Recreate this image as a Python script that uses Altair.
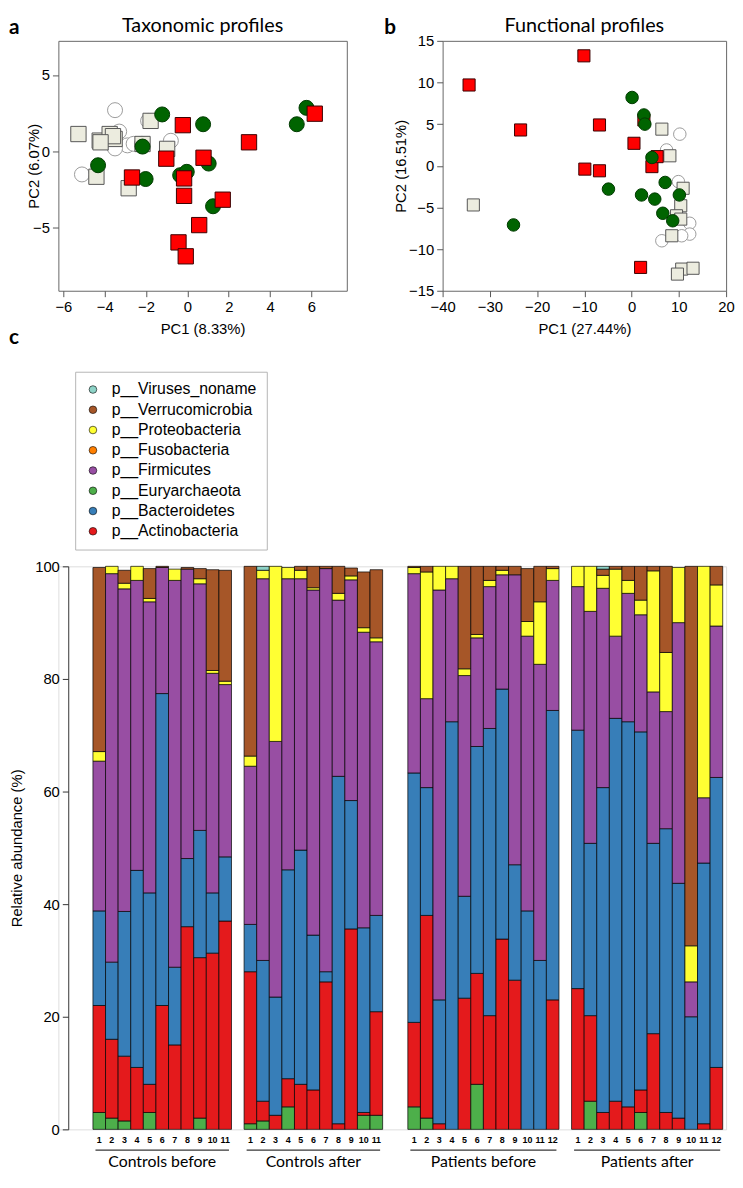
import altair as alt
import pandas as pd

# ---------------- Panel a: taxonomic profiles (PCA) ----------------
tax_open_x = [-3.5, -5.1, -3.6, -3.3, -2.9, -2.6, -1.9, -0.8, -3.5, -2.2]
tax_open_y = [2.7, -1.5, 0.4, 1.3, 0.4, 0.5, 2.0, 0.7, 0.2, 0.5]
tax_beige_x = [-5.27, -4.24, -3.76, -3.52, -4.4, -2.84, -1.78, -0.98, -2.17, -3.6, -4.2]
tax_beige_y = [1.14, 0.71, 1.14, 0.82, -1.65, -2.4, 2.0, 0.17, 0.49, 1.0, 0.6]
tax_green_x = [-1.22, 0.76, -2.17, -4.32, -2.02, -0.35, -0.03, 1.03, 1.24, 5.76, 5.29]
tax_green_y = [2.42, 1.78, 0.32, -0.9, -1.8, -1.55, -1.33, -0.79, -3.58, 2.85, 1.78]
tax_red_x = [-0.22, -1.02, -2.68, 0.78, -0.16, -0.16, 1.71, 0.57, -0.43, -0.08, 2.98, 6.16]
tax_red_y = [1.72, -0.47, -1.7, -0.41, -1.76, -2.9, -3.15, -4.81, -5.94, -6.85, 0.6, 2.47]

# ---------------- Panel b: functional profiles (PCA) ----------------
fun_open_x = [10.2, 7.4, 9.9, 12.3, 12.3, 10.6, 6.4]
fun_open_y = [3.8, 1.9, -1.9, -6.9, -8.2, -8.4, -9.0]
fun_beige_x = [6.4, 8.1, -33.5, 10.9, 10.4, 9.5, 10.4, 8.5, 10.6, 13.0, 9.7]
fun_beige_y = [4.4, 1.2, -4.7, -2.7, -4.8, -6.0, -6.4, -8.4, -12.4, -12.3, -13.0]
fun_red_x = [-34.4, -10.1, -23.5, -6.8, 0.5, -9.9, -6.8, 2.6, 4.3, 5.4, 1.9]
fun_red_y = [9.7, 13.2, 4.3, 4.9, 2.7, -0.4, -0.6, 5.5, -0.1, 1.1, -12.2]
fun_green_x = [0.1, 2.6, 2.8, 4.3, -4.9, 7.1, 2.1, 4.9, 10.1, 6.6, 8.7, -25.0]
fun_green_y = [8.2, 6.1, 5.0, 1.0, -2.8, -2.0, -3.5, -4.0, -3.5, -5.7, -6.6, -7.1]

# ---------------- Panel c: phylum relative abundance (%) ----------------
group_names = ["Controls before", "Controls after", "Patients before", "Patients after"]
group_sizes = [11, 11, 12, 12]

# values per sample, order: CB1-11, CA1-11, PB1-12, PA1-12
euryarchaeota = [3, 2, 1.5, 0, 3, 0, 0, 0, 2, 0, 0,
                 1, 1.5, 0, 4, 0, 0, 0, 0, 0, 2.5, 2.5,
                 4, 2, 0, 0, 0, 8, 0, 0, 0, 0, 0, 0,
                 0, 5, 0, 0, 0, 3, 0, 0, 0, 0, 0, 0]
actinobacteria = [19, 14, 11.5, 11, 5, 22, 15, 36, 28.5, 31.3, 37,
                  27, 3.5, 2.5, 5, 8, 7, 26.2, 1, 35.6, 0.5, 18.4,
                  15, 36, 1, 0, 23.3, 19.7, 20.2, 33.8, 26.5, 0, 0, 23,
                  25, 15.2, 3, 5, 4, 4, 17, 3, 2, 0, 1, 11]
bacteroidetes = [16.8, 13.7, 25.7, 35, 34, 55.4, 13.8, 12.1, 22.6, 10.7, 11.4,
                 8.4, 25, 21, 37.1, 41.6, 27.5, 1.8, 61.7, 22.8, 32.8, 17.1,
                 44.3, 22.7, 22, 72.4, 18.1, 40.3, 51, 44.4, 20.5, 38.8, 30, 51.4,
                 45.9, 30.6, 57.7, 68, 68.4, 63.6, 33.8, 50.4, 41.7, 20, 46.3, 51.5]
firmicutes = [26.6, 69, 57.3, 51.5, 51.7, 22.4, 68.7, 51.4, 43.8, 39, 30.6,
              28.1, 67.8, 45.4, 51.7, 48.2, 61.3, 71.6, 31.3, 39.2, 52.5, 48.6,
              35.4, 15.8, 72.8, 25.4, 39.2, 19.3, 25.2, 20.3, 51.5, 48.8, 52.6, 23.1,
              25.5, 41.2, 35.4, 14.6, 22.8, 20.8, 26.9, 20.8, 46.3, 6.2, 11.6, 26.9]
fusobacteria = [0] * 46
proteobacteria = [1.7, 1.3, 1.0, 2.5, 0.6, 0, 2, 0, 0.9, 0.5, 0.6,
                  1.8, 1.5, 31.1, 2, 1.5, 0.4, 0, 1.2, 0.7, 0.8, 0.7,
                  1.1, 22.5, 4.2, 2.2, 1.2, 0.6, 1.1, 0.8, 0, 2.6, 11.1, 2.1,
                  3.6, 8, 2.3, 11.9, 2.3, 2.6, 21.5, 10.5, 9.8, 6.4, 41.1, 7.3]
verrucomicrobia = [32.7, 0, 2.3, 0, 5.3, 0.2, 0, 0.3, 1.8, 17.9, 19.7,
                   33.7, 0, 0, 0, 0.7, 3.8, 0.4, 4.8, 1.4, 9.9, 12.1,
                   0.2, 1, 0, 0, 18.2, 12.1, 2.5, 0.7, 1.5, 9.4, 6.3, 0.4,
                   0, 0, 1.1, 0.5, 2.5, 6, 0.8, 15.3, 0, 67.4, 0, 3.3]
viruses = [0] * 11 + [0, 0.7] + [0] * 9 + [0] * 12 + [0, 0, 0.5] + [0] * 9

stack_bottom_up = [
    ("p__Euryarchaeota", euryarchaeota),
    ("p__Actinobacteria", actinobacteria),
    ("p__Bacteroidetes", bacteroidetes),
    ("p__Firmicutes", firmicutes),
    ("p__Fusobacteria", fusobacteria),
    ("p__Proteobacteria", proteobacteria),
    ("p__Verrucomicrobia", verrucomicrobia),
    ("p__Viruses_noname", viruses),
]
legend_order = ["p__Viruses_noname", "p__Verrucomicrobia", "p__Proteobacteria",
                "p__Fusobacteria", "p__Firmicutes", "p__Euryarchaeota",
                "p__Bacteroidetes", "p__Actinobacteria"]
legend_colors = ["#8DD3C7", "#A65628", "#FFFF33", "#FF7F00", "#984EA3",
                 "#4DAF4A", "#377EB8", "#E41A1C"]

# ---------------- layout constants ----------------
AX_FONT = "Liberation Sans"
TITLE_FONT = "Lato"
group_offsets = [0, 12, 25, 38]   # slot position of first bar of each group

A_W, A_H = 292, 253
B_W, B_H = 287, 253
C_W, C_H = 676, 570


def scatter_panel(sets, xdom, ydom, xvals, yvals, xtitle, ytitle, w, h,
                  title, letter, letter_x, ytitle_x, csize, ssize):
    xaxis = alt.Axis(values=xvals, title=xtitle, grid=False, domain=False,
                     tickSize=6, tickColor="#555", labelFont=AX_FONT,
                     labelFontSize=15, labelColor="black", labelPadding=3,
                     titleFont=AX_FONT, titleFontSize=15, titleFontWeight="normal",
                     titleColor="black", titlePadding=7, labelFlush=False)
    yaxis = alt.Axis(values=yvals, title=ytitle, grid=False, domain=False,
                     tickSize=6, tickColor="#555", labelFont=AX_FONT,
                     labelFontSize=15, labelColor="black", labelPadding=3,
                     titleFont=AX_FONT, titleFontSize=15, titleFontWeight="normal",
                     titleColor="black", titleX=ytitle_x, titleY=h / 2,
                     titleBaseline="middle", titleAlign="center", labelFlush=False)
    layers = []
    for xs, ys, shape, fill, stroke in sets:
        df = pd.DataFrame({"x": xs, "y": ys})
        size = csize if shape == "circle" else ssize
        layers.append(
            alt.Chart(df).mark_point(shape=shape, filled=True, fill=fill, stroke=stroke,
                                     strokeWidth=1, size=size, opacity=1,
                                     fillOpacity=1, strokeOpacity=1)
            .encode(x=alt.X("x:Q", scale=alt.Scale(domain=xdom, nice=False, zero=False), axis=xaxis),
                    y=alt.Y("y:Q", scale=alt.Scale(domain=ydom, nice=False, zero=False), axis=yaxis))
        )
    t = alt.Chart(pd.DataFrame({"t": [title]})).mark_text(
        font=TITLE_FONT, fontSize=20, align="center", baseline="middle", color="black"
    ).encode(text="t:N", x=alt.value(w / 2), y=alt.value(-15))
    l = alt.Chart(pd.DataFrame({"t": [letter]})).mark_text(
        font=TITLE_FONT, fontSize=21, fontWeight="bold", align="left", baseline="top", color="black"
    ).encode(text="t:N", x=alt.value(letter_x), y=alt.value(-24))
    return alt.layer(*layers, t, l).properties(
        width=w, height=h, view=alt.ViewBackground(stroke="#666", strokeWidth=1))


OPEN = ("circle", "white", "#9a9a9a")
BEIGE = ("square", "#ECECDF", "#555555")
GREEN = ("circle", "#006400", "#003a00")
RED = ("square", "#FF0000", "#3a0000")

panel_a = scatter_panel(
    [(tax_open_x, tax_open_y) + OPEN, (tax_beige_x, tax_beige_y) + BEIGE,
     (tax_green_x, tax_green_y) + GREEN, (tax_red_x, tax_red_y) + RED],
    [-6.24, 7.71], [-9.1, 7.23], [-6, -4, -2, 0, 2, 4, 6], [-5, 0, 5],
    "PC1 (8.33%)", "PC2 (6.07%)", A_W, A_H, "Taxonomic profiles", "a", -50, -25, 230, 240)

panel_b = scatter_panel(
    [(fun_open_x, fun_open_y) + OPEN, (fun_beige_x, fun_beige_y) + BEIGE,
     (fun_red_x, fun_red_y) + RED, (fun_green_x, fun_green_y) + GREEN],
    [-40, 20], [-15, 15], [-40, -30, -20, -10, 0, 10, 20], [-15, -10, -5, 0, 5, 10, 15],
    "PC1 (27.44%)", "PC2 (16.51%)", B_W, B_H, "Functional profiles", "b", -59, -43, 160, 150)

# ---------------- build bar table ----------------
rows = []
num_rows = []
grp_rows = []
idx = 0
for gname, off, n in zip(group_names, group_offsets, group_sizes):
    for i in range(n):
        cum = 0.0
        for ph, vals in stack_bottom_up:
            v = vals[idx]
            if v > 0:
                rows.append({"x0": off + i, "x1": off + i + 1, "y0": cum, "y1": cum + v,
                             "phylum": ph, "sample": f"{gname} {i + 1}", "value": v})
            cum += v
        num_rows.append({"xc": off + i + 0.5, "lab": str(i + 1)})
        idx += 1
    grp_rows.append({"xs": off + 0.2, "xe": off + n - 0.2, "xc": off + n / 2, "g": gname})

bars_df = pd.DataFrame(rows)
nums_df = pd.DataFrame(num_rows)
grp_df = pd.DataFrame(grp_rows)

xdom_c = [-2.745, 50.27]
xs_c = alt.Scale(domain=xdom_c, nice=False, zero=False)

bars = alt.Chart(bars_df).mark_rect(stroke="black", strokeWidth=0.7).encode(
    x=alt.X("x0:Q", scale=xs_c, axis=None),
    x2="x1:Q",
    y=alt.Y("y0:Q", scale=alt.Scale(domain=[0, 100], nice=False),
            axis=alt.Axis(values=[0, 20, 40, 60, 80, 100], title="Relative abundance (%)",
                          grid=False, offset=-10, domain=True, domainColor="#333",
                          tickColor="#333", tickSize=6, labelFont=AX_FONT, labelFontSize=15,
                          labelColor="black", labelPadding=3, titleFont=AX_FONT,
                          titleFontSize=15, titleFontWeight="normal", titleColor="black",
                          titlePadding=10)),
    y2="y1:Q",
    color=alt.Color("phylum:N", scale=alt.Scale(domain=legend_order, range=legend_colors),
                    legend=alt.Legend(title=None, orient="none", legendX=17, legendY=-197,
                                      direction="vertical", symbolType="circle", symbolSize=60,
                                      symbolStrokeColor="black", symbolStrokeWidth=0.6,
                                      labelFont=AX_FONT, labelFontSize=16, labelColor="black",
                                      labelOffset=11, rowPadding=4.5, padding=10,
                                      strokeColor="#b5b5b5", fillColor="white",
                                      labelLimit=300)),
)

nums = alt.Chart(nums_df).mark_text(font=AX_FONT, fontSize=9, fontWeight="bold",
                                    align="center", baseline="middle", color="black").encode(
    x=alt.X("xc:Q", scale=xs_c, axis=None), y=alt.value(C_H + 11), text="lab:N")

brackets = alt.Chart(grp_df).mark_rule(color="black", strokeWidth=1).encode(
    x=alt.X("xs:Q", scale=xs_c, axis=None), x2="xe:Q", y=alt.value(C_H + 21))

glabels = alt.Chart(grp_df).mark_text(font=TITLE_FONT, fontSize=16, align="center",
                                      baseline="middle", color="black").encode(
    x=alt.X("xc:Q", scale=xs_c, axis=None), y=alt.value(C_H + 33), text="g:N")

letter_c = alt.Chart(pd.DataFrame({"t": ["c"]})).mark_text(
    font=TITLE_FONT, fontSize=21, fontWeight="bold", align="left", baseline="top", color="black"
).encode(text="t:N", x=alt.value(-50), y=alt.value(-242))

panel_c = alt.layer(bars, nums, brackets, glabels, letter_c).properties(width=C_W, height=C_H)

top = alt.hconcat(panel_a, panel_b, spacing=97, bounds="flush")
chart = alt.vconcat(top, panel_c, spacing=532, bounds="flush").properties(
    padding=0
).resolve_legend(color="independent").configure_view(stroke=None).configure(background="white")

chart.save("out.html", embed_options={"renderer": "svg", "actions": False})
